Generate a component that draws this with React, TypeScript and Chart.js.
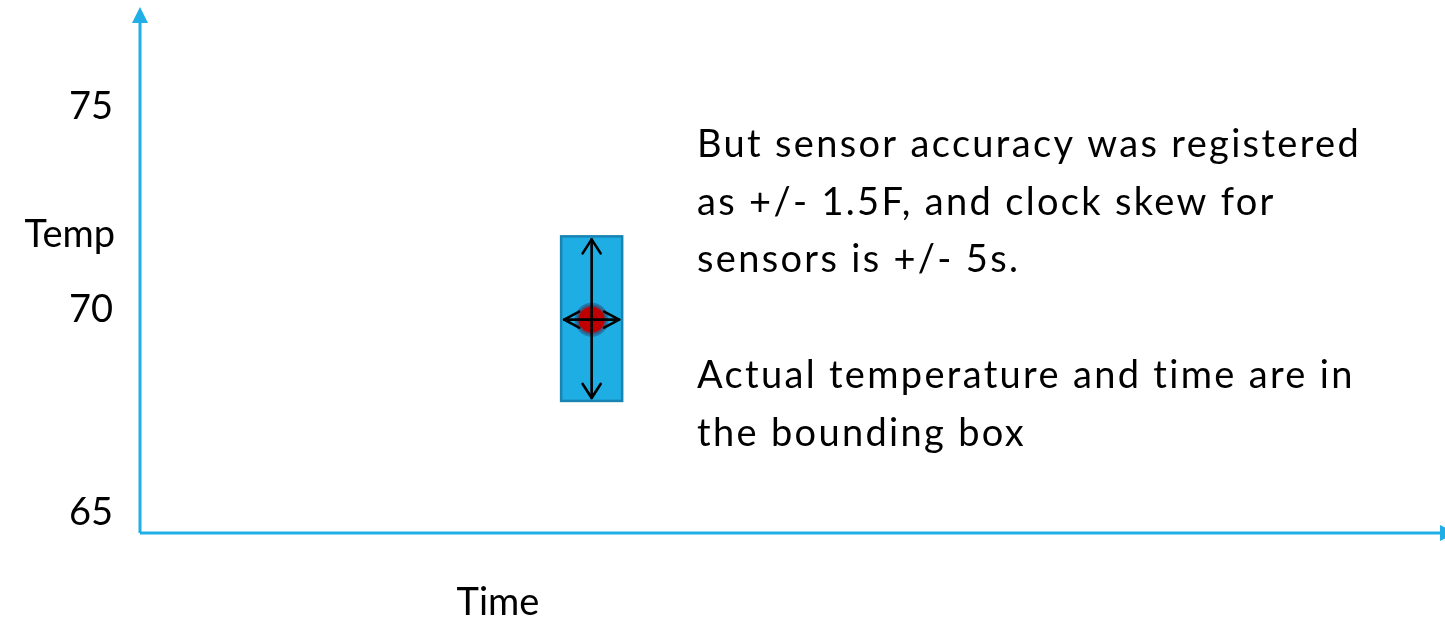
import React, { useEffect, useRef } from "react";
import { Chart, registerables } from "chart.js";

Chart.register(...registerables);

// ---- data ----
const X_MIN = 0;
const X_MAX = 213; // seconds
const Y_MIN = 64.5;
const Y_MAX = 77.05; // °F
const Y_TICKS = [65, 70, 75];
const READING_TIME = [74];
const READING_TEMP = [69.75];
const TIME_ERR = [5];
const TEMP_LOW = [67.75];
const TEMP_HIGH = [71.8];
const X_TITLE = "Time";
const Y_TITLE = "Temp";
const NOTE_LINES = [
  "But sensor accuracy was registered",
  "as +/- 1.5F, and clock skew for",
  "sensors is +/- 5s.",
  "",
  "Actual temperature and time are in",
  "the bounding box",
];

const AXIS_BLUE = "#1FAEE6";
const FONT = "Lato, 'Open Sans', sans-serif";
const FONT_SIZE = 38;

function openArrow(ctx: CanvasRenderingContext2D, x1: number, y1: number, x2: number, y2: number, len: number, half: number) {
  const ang = Math.atan2(y2 - y1, x2 - x1);
  ctx.beginPath();
  ctx.moveTo(x1, y1);
  ctx.lineTo(x2, y2);
  ctx.stroke();
  const head = (tx: number, ty: number, a: number) => {
    const bx = tx - Math.cos(a) * len;
    const by = ty - Math.sin(a) * len;
    const px = -Math.sin(a) * half;
    const py = Math.cos(a) * half;
    ctx.beginPath();
    ctx.moveTo(bx + px, by + py);
    ctx.lineTo(tx, ty);
    ctx.lineTo(bx - px, by - py);
    ctx.stroke();
  };
  head(x2, y2, ang);
  head(x1, y1, ang + Math.PI);
}

const overlay = {
  id: "overlay",
  beforeDatasetsDraw(chart: any) {
    const { ctx } = chart;
    const xs = chart.scales.x;
    const ys = chart.scales.y;
    ctx.save();
    READING_TIME.forEach((t, i) => {
      const l = xs.getPixelForValue(t - TIME_ERR[i]);
      const r = xs.getPixelForValue(t + TIME_ERR[i]);
      const top = ys.getPixelForValue(TEMP_HIGH[i]);
      const bot = ys.getPixelForValue(TEMP_LOW[i]);
      ctx.fillStyle = "#1EAEE4";
      ctx.fillRect(l, top, r - l, bot - top);
      ctx.strokeStyle = "#1983B2";
      ctx.lineWidth = 2.5;
      ctx.strokeRect(l, top, r - l, bot - top);
    });
    ctx.restore();
  },
  afterDatasetsDraw(chart: any) {
    const { ctx } = chart;
    const xs = chart.scales.x;
    const ys = chart.scales.y;
    ctx.save();
    ctx.strokeStyle = "#000";
    ctx.lineWidth = 2.6;
    ctx.lineCap = "round";
    ctx.lineJoin = "round";
    READING_TIME.forEach((t, i) => {
      const l = xs.getPixelForValue(t - TIME_ERR[i]);
      const r = xs.getPixelForValue(t + TIME_ERR[i]);
      const top = ys.getPixelForValue(TEMP_HIGH[i]);
      const bot = ys.getPixelForValue(TEMP_LOW[i]);
      const cx = xs.getPixelForValue(t);
      const cy = ys.getPixelForValue(READING_TEMP[i]);
      openArrow(ctx, cx, top + 3, cx, bot - 3, 14, 9);
      openArrow(ctx, l + 3, cy, r - 3, cy, 15, 8);
    });
    ctx.restore();
  },
  afterDraw(chart: any) {
    const { ctx, chartArea } = chart;
    const { left, right, top, bottom } = chartArea;
    ctx.save();
    // axes with arrowheads
    ctx.strokeStyle = AXIS_BLUE;
    ctx.fillStyle = AXIS_BLUE;
    ctx.lineWidth = 3;
    ctx.beginPath();
    ctx.moveTo(left, bottom);
    ctx.lineTo(left, top);
    ctx.moveTo(left, bottom);
    ctx.lineTo(right, bottom);
    ctx.stroke();
    ctx.beginPath();
    ctx.moveTo(left - 8, top);
    ctx.lineTo(left, top - 16);
    ctx.lineTo(left + 8, top);
    ctx.closePath();
    ctx.fill();
    ctx.beginPath();
    ctx.moveTo(right, bottom - 8);
    ctx.lineTo(right + 16, bottom);
    ctx.lineTo(right, bottom + 8);
    ctx.closePath();
    ctx.fill();

    // titles
    ctx.fillStyle = "#000";
    ctx.font = `${FONT_SIZE}px ${FONT}`;
    ctx.textBaseline = "alphabetic";
    ctx.textAlign = "right";
    ctx.fillText(Y_TITLE, 115, 247);
    ctx.textAlign = "center";
    ctx.fillText(X_TITLE, 498, 615);

    // note text
    ctx.textAlign = "left";
    const w0 = ctx.measureText(NOTE_LINES[0]).width;
    const ls = Math.max(0, Math.min(4, (664 - w0) / NOTE_LINES[0].length));
    (ctx as any).letterSpacing = `${ls}px`;
    const baselines = [157, 215, 272, 330, 388, 446];
    NOTE_LINES.forEach((line, i) => {
      if (line) ctx.fillText(line, 697, baselines[i]);
    });
    ctx.restore();
  },
};

export default function App() {
  const ref = useRef<HTMLCanvasElement>(null);
  useEffect(() => {
    document.body.style.margin = "0";
    const canvas = ref.current!;
    const chart = new Chart(canvas, {
      type: "scatter",
      data: {
        datasets: [
          {
            data: READING_TIME.map((t, i) => ({ x: t, y: READING_TEMP[i] })),
            pointRadius: 15,
            pointHoverRadius: 15,
            backgroundColor: "#C00000",
            borderColor: "rgba(28,110,160,0.75)",
            borderWidth: 4,
          },
        ],
      },
      options: {
        animation: false,
        responsive: false,
        events: [],
        layout: { autoPadding: false, padding: { top: 23, right: 5, left: 0, bottom: 0 } },
        plugins: { legend: { display: false }, tooltip: { enabled: false } },
        scales: {
          x: {
            type: "linear",
            min: X_MIN,
            max: X_MAX,
            grid: { display: false },
            border: { display: false },
            ticks: { display: false },
            afterFit: (s: any) => {
              s.height = 87;
              s.paddingLeft = 0;
              s.paddingRight = 0;
              s.paddingTop = 0;
              s.paddingBottom = 0;
            },
          },
          y: {
            type: "linear",
            min: Y_MIN,
            max: Y_MAX,
            grid: { display: false, drawTicks: false },
            border: { display: false },
            afterBuildTicks: (s: any) => {
              s.ticks = Y_TICKS.map((v) => ({ value: v }));
            },
            afterFit: (s: any) => {
              s.width = 140;
              s.paddingTop = 0;
              s.paddingBottom = 0;
              s.paddingLeft = 0;
              s.paddingRight = 0;
            },
            ticks: {
              color: "#000",
              padding: 27,
              font: { family: FONT, size: FONT_SIZE },
              callback: (v: any) => String(v),
            },
          },
        },
      },
      plugins: [overlay],
    });
    return () => chart.destroy();
  }, []);
  return <canvas ref={ref} width={1445} height={620} style={{ display: "block" }} />;
}
